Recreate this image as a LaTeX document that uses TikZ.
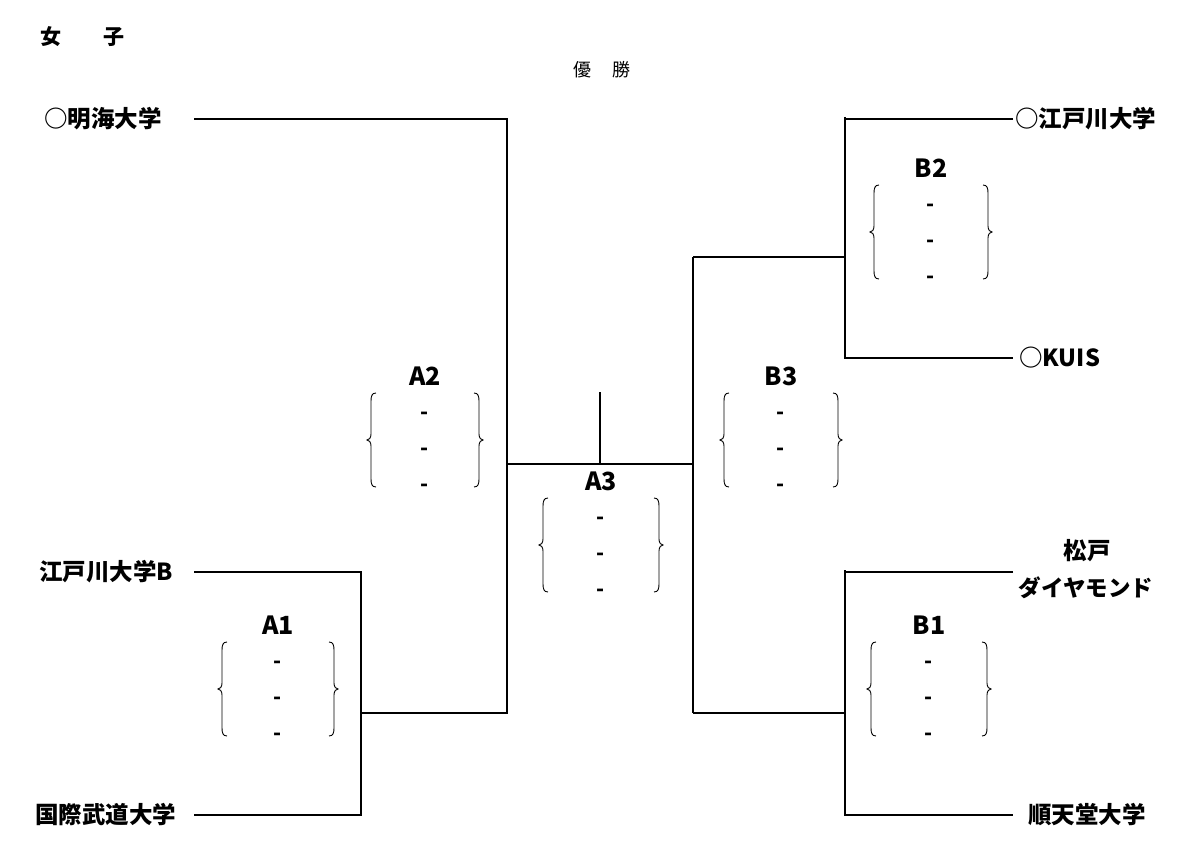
\documentclass[tikz,border=0pt]{standalone}
\usepackage{fontspec}
\setmainfont{Noto Sans CJK JP}
\newfontfamily\thinfont{Noto Sans CJK JP}
\tikzset{
  team/.style={font=\bfseries\fontsize{23.5}{26}\selectfont, inner sep=0pt},
  titletext/.style={font=\bfseries\fontsize{21}{23}\selectfont, inner sep=0pt},
  game/.style={font=\bfseries\fontsize{25}{27}\selectfont, inner sep=0pt},
  scoredash/.style={font=\bfseries\fontsize{21}{23}\selectfont, inner sep=0pt},
  bline/.style={line width=1.6pt},
  bracestroke/.style={line width=0.9pt},
}
% left brace: x of tip, top, bottom
\newcommand{\lbr}[3]{%
  \pgfmathsetmacro{\mm}{(#2+#3)/2}%
  \draw[bracestroke] (#1+9,#2) .. controls (#1+5,#2) and (#1+4,#2+3) .. (#1+4,#2+8)
     -- (#1+4,\mm-6) .. controls (#1+4,\mm-2) and (#1+2,\mm) .. (#1,\mm)
     .. controls (#1+2,\mm) and (#1+4,\mm+2) .. (#1+4,\mm+6)
     -- (#1+4,#3-8) .. controls (#1+4,#3-3) and (#1+5,#3) .. (#1+9,#3);}
\newcommand{\rbr}[3]{%
  \pgfmathsetmacro{\mm}{(#2+#3)/2}%
  \draw[bracestroke] (#1-9,#2) .. controls (#1-5,#2) and (#1-4,#2+3) .. (#1-4,#2+8)
     -- (#1-4,\mm-6) .. controls (#1-4,\mm-2) and (#1-2,\mm) .. (#1,\mm)
     .. controls (#1-2,\mm) and (#1-4,\mm+2) .. (#1-4,\mm+6)
     -- (#1-4,#3-8) .. controls (#1-4,#3-3) and (#1-5,#3) .. (#1-9,#3);}
\newcommand{\scorebox}[4]{% name, x center, y of label, half width
  \node[game] (#1) at (#2,#3) {#1};
  \lbr{#2-#4}{#3+17}{#3+111}
  \rbr{#2+#4}{#3+17}{#3+111}
  \node[scoredash] (#1s1) at (#2,#3+40) {-};
  \node[scoredash] (#1s2) at (#2,#3+76) {-};
  \node[scoredash] (#1s3) at (#2,#3+112) {-};
}
\begin{document}
\begin{tikzpicture}[x=1pt,y=-1pt]
\useasboundingbox (0,0) rectangle (1181,864);
% titles
\node[titletext, anchor=west] (title1) at (40,37) {女};
\node[titletext, anchor=west] (title2) at (103,37) {子};
\node[inner sep=0pt, font=\thinfont\fontsize{18}{20}\selectfont] (yu) at (582,70) {優};
\node[inner sep=0pt, font=\thinfont\fontsize{18}{20}\selectfont] (sho) at (621,70) {勝};
% left teams
\node[team, anchor=west] (meikai) at (44,119) {○明海大学};
\node[team, anchor=west] (edoB) at (39,572) {江戸川大学B};
\node[team, anchor=west] (kokusai) at (35,815) {国際武道大学};
% right teams
\node[team, anchor=west] (edo) at (1015,119) {○江戸川大学};
\node[team, anchor=west] (kuis) at (1019,358) {○KUIS};
\node[team] (matsudo1) at (1087,551) {松戸};
\node[team, font=\bfseries\fontsize{22.5}{25}\selectfont] (matsudo2) at (1086,588) {ダイヤモンド};
\node[team] (jun) at (1087,815) {順天堂大学};
% coordinates
\coordinate (l1) at (194,119);
\coordinate (l2) at (194,572);
\coordinate (l3) at (194,815);
\coordinate (a1t) at (361,572);
\coordinate (a1b) at (361,815);
\coordinate (a1m) at (361,713);
\coordinate (a2t) at (507,119);
\coordinate (a2m) at (507,464);
\coordinate (a2b) at (507,713);
\coordinate (ctop) at (600,392);
\coordinate (cmid) at (600,464);
\coordinate (b3m) at (693,464);
\coordinate (b3t) at (693,257);
\coordinate (b3b) at (693,713);
\coordinate (b2t) at (845,117);
\coordinate (b2tt) at (845,119);
\coordinate (b2m) at (845,257);
\coordinate (b2b) at (845,358);
\coordinate (b1t) at (845,570);
\coordinate (b1tt) at (845,572);
\coordinate (b1m) at (845,713);
\coordinate (b1b) at (845,815);
\coordinate (r1) at (1013,119);
\coordinate (r2) at (1013,358);
\coordinate (r3) at (1013,572);
\coordinate (r4) at (1013,815);
% left bracket
\draw[bline] (l2) -- (a1t) -- (a1b) -- (l3);
\draw[bline] (l1) -- (a2t) -- (a2b) -- (a1m);
\draw[bline] (a2m) -- (b3m);
\draw[bline] (ctop) -- (cmid);
% right bracket
\draw[bline] (b3t) -- (b3b);
\draw[bline] (b3t) -- (b2m);
\draw[bline] (b3b) -- (b1m);
\draw[bline] (r1) -- (b2tt);
\draw[bline] (b2t) -- (b2b) -- (r2);
\draw[bline] (r3) -- (b1tt);
\draw[bline] (b1t) -- (b1b) -- (r4);
% score boxes
\scorebox{A1}{278}{625}{60}
\scorebox{A2}{425}{376}{58}
\scorebox{A3}{601}{481}{62}
\scorebox{B3}{781}{376}{61}
\scorebox{B2}{931}{168}{61}
\scorebox{B1}{929}{625}{62}
\end{tikzpicture}
\end{document}
